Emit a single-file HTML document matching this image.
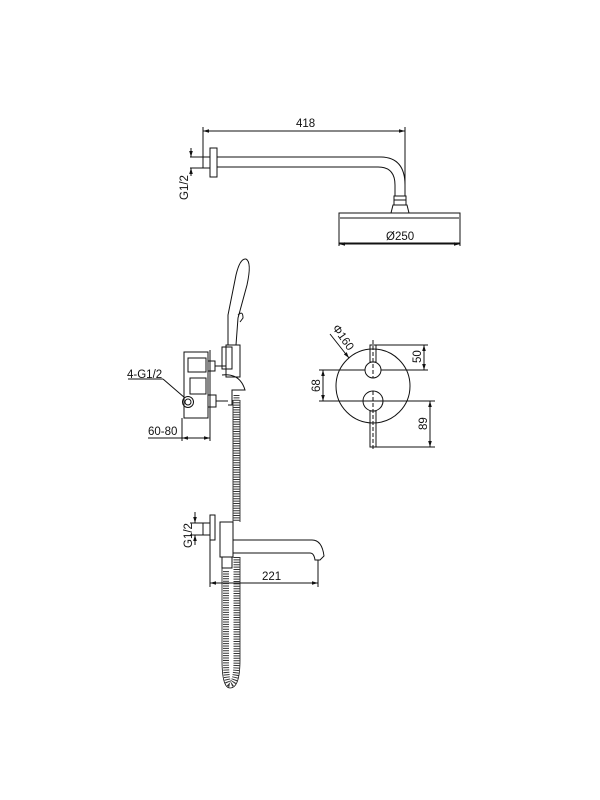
<!DOCTYPE html>
<html><head><meta charset="utf-8"><style>
html,body{margin:0;padding:0;background:#fff;}
svg{display:block}
text{font-family:"Liberation Sans",sans-serif;font-size:11.5px;fill:#111}
</style></head><body>
<svg width="600" height="800" viewBox="0 0 600 800" xmlns="http://www.w3.org/2000/svg">
<defs>
<marker id="a" viewBox="0 0 10 10" refX="10" refY="5" markerWidth="6" markerHeight="6" orient="auto-start-reverse"><path d="M0,2 L10,5 L0,8z" fill="#111"/></marker>
</defs>
<g fill="none" stroke="#111" stroke-width="1">
<line x1="203" y1="127" x2="203" y2="168"/>
<line x1="405" y1="127" x2="405" y2="196"/>
<line x1="203" y1="131" x2="405" y2="131" marker-start="url(#a)" marker-end="url(#a)"/>
<rect x="210" y="148" width="7" height="29"/>
<rect x="203" y="157" width="7" height="11"/>
<path d="M217,157 H380 Q405,157 405,185 V196"/>
<path d="M217,167 H378 Q395,167 395,185 V196"/>
<rect x="394" y="196" width="12" height="9"/>
<line x1="394" y1="200" x2="406" y2="200"/>
<path d="M391,213 L393,205 H407 L409,213"/>
<rect x="339" y="213" width="121" height="30"/>
<line x1="340" y1="218" x2="459" y2="218"/>
<line x1="339" y1="243" x2="339" y2="246"/><line x1="460" y1="243" x2="460" y2="246"/>
<line x1="339" y1="244" x2="460" y2="244" marker-start="url(#a)" marker-end="url(#a)"/>
<line x1="190" y1="157" x2="203" y2="157"/><line x1="190" y1="168" x2="203" y2="168"/>
<line x1="191" y1="148" x2="191" y2="157" marker-end="url(#a)"/>
<line x1="191" y1="176" x2="191" y2="168" marker-end="url(#a)"/>

<path d="M246,259 Q252,262 247,285 L238,318 L236,345"/>
<path d="M246,259 Q240,258 236,275 L228,315 L228,345"/>
<path d="M238,315 Q243,310 243,318 L240,322"/>
<rect x="222" y="347" width="10" height="22"/>
<rect x="226" y="345" width="14" height="32"/>
<path d="M222,375 Q240,373 245,390 H232 L232,405 H228"/>
<line x1="210" y1="350" x2="210" y2="413"/>
<rect x="184" y="352" width="24" height="66"/>
<path d="M188,358 h18 v14 h-18z M190,378 h16 v16 h-16z"/>
<rect x="208" y="361" width="7" height="10"/><line x1="215" y1="366" x2="226" y2="366"/>
<rect x="208" y="395" width="8" height="12"/><line x1="216" y1="401" x2="228" y2="401"/>
<circle cx="188" cy="402" r="5.5"/><circle cx="188" cy="402" r="3"/>
<line x1="128" y1="379" x2="163" y2="379"/><line x1="163" y1="379" x2="185" y2="398"/>
<line x1="182" y1="418" x2="182" y2="441"/><line x1="210" y1="413" x2="210" y2="441"/>
<line x1="148" y1="438" x2="182" y2="438"/>
<line x1="182" y1="438" x2="210" y2="438" marker-start="url(#a)" marker-end="url(#a)"/>

<circle cx="373" cy="386" r="37"/>
<circle cx="373" cy="370" r="8"/>
<circle cx="373" cy="401" r="10"/>
<rect x="370" y="345" width="6" height="17"/>
<rect x="370" y="411" width="6" height="36"/>
<line x1="373" y1="340" x2="373" y2="378" stroke-dasharray="4,2"/>
<line x1="373" y1="391" x2="373" y2="450" stroke-dasharray="4,2"/>
<line x1="376" y1="345" x2="428" y2="345"/>
<line x1="381" y1="370" x2="428" y2="370"/>
<line x1="319" y1="370" x2="365" y2="370"/>
<line x1="319" y1="401" x2="435" y2="401"/>
<line x1="376" y1="447" x2="435" y2="447"/>
<line x1="424" y1="345" x2="424" y2="370" marker-start="url(#a)" marker-end="url(#a)"/>
<line x1="323" y1="370" x2="323" y2="401" marker-start="url(#a)" marker-end="url(#a)"/>
<line x1="430" y1="401" x2="430" y2="447" marker-start="url(#a)" marker-end="url(#a)"/>
<line x1="330" y1="334" x2="349" y2="358" marker-end="url(#a)"/>

<rect x="210" y="515" width="5" height="25"/>
<rect x="203" y="523" width="7" height="12"/>
<rect x="220" y="522" width="13" height="35"/>
<path d="M233,540 H312 Q322,540 324,556 L320,560 H315 Q314,553 310,553 H233"/>
<rect x="222" y="557" width="10" height="11"/>
<line x1="210" y1="540" x2="210" y2="587"/><line x1="318" y1="560" x2="318" y2="587"/>
<line x1="210" y1="583" x2="318" y2="583" marker-start="url(#a)" marker-end="url(#a)"/>
<line x1="190" y1="523" x2="203" y2="523"/><line x1="190" y1="535" x2="203" y2="535"/>
<line x1="195" y1="512" x2="195" y2="523" marker-end="url(#a)"/>
<line x1="195" y1="545" x2="195" y2="535" marker-end="url(#a)"/>
</g>
<g fill="none" stroke="#333" stroke-width="6" stroke-dasharray="1,1.4">
<path d="M236.5,395 V522 M236.5,557 V660 Q236.5,684 230,684 Q226,684 226,660 V570"/>
</g>
<g fill="none" stroke="#111" stroke-width="0.8">
<path d="M233,400 V522 M240,400 V522 M240,557 V660 Q240,688 230,688 Q222,688 222,660 V568"/>
</g>
<text x="296" y="127">418</text>
<text x="386" y="240">Ø250</text>
<text x="127" y="378">4-G1/2</text>
<text x="148" y="435">60-80</text>
<text x="262" y="580">221</text>
<text transform="translate(188,200) rotate(-90)">G1/2</text>
<text transform="translate(192,548) rotate(-90)">G1/2</text>
<text transform="translate(421,363) rotate(-90)">50</text>
<text transform="translate(320,392) rotate(-90)">68</text>
<text transform="translate(427,430) rotate(-90)">89</text>
<text transform="translate(332,328) rotate(55)">Φ160</text>
</svg>
</body></html>
